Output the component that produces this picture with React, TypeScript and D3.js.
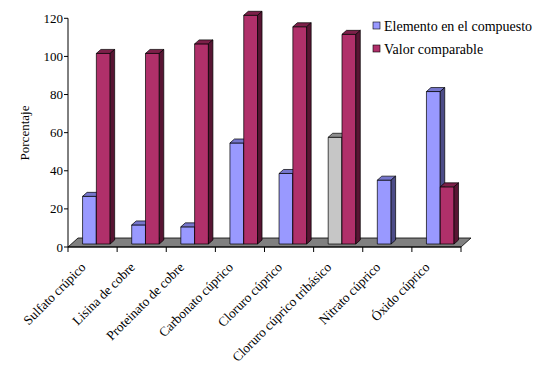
import React from "react";
import * as d3 from "d3";

const categories = [
  "Sulfato crúpico",
  "Lisina de cobre",
  "Proteinato de cobre",
  "Carbonato cúprico",
  "Cloruro cúprico",
  "Cloruro cúprico tribásico",
  "Nitrato cúprico",
  "Óxido cúprico",
];
const elemento: (number | null)[] = [25, 10, 9, 53, 37, 56, 33.5, 80];
const comparable: (number | null)[] = [100, 100, 105, 120, 114, 110, null, 30];
const seriesNames = ["Elemento en el compuesto", "Valor comparable"];
const yTicks = [0, 20, 40, 60, 80, 100, 120];
const grayIndex = 5;

const W = 536;
const H = 376;
const FONT = "Liberation Serif, Tinos, Times New Roman, DejaVu Serif, serif";

const palettes = {
  blue: { front: "#9999ff", top: "#7676cc", side: "#4c4c88" },
  red: { front: "#b0306a", top: "#7c2049", side: "#581533" },
  gray: { front: "#c6c6c6", top: "#8e8e8e", side: "#7a7a7a" },
};

function Bar3D({ x, w, yTop, yBottom, dx, dy, pal }: any) {
  const sw = 0.7;
  return (
    <g stroke="#000" strokeWidth={sw} strokeLinejoin="round">
      <rect x={x} y={yTop} width={w} height={yBottom - yTop} fill={pal.front} />
      <polygon
        points={`${x},${yTop} ${x + dx},${yTop + dy} ${x + w + dx},${yTop + dy} ${x + w},${yTop}`}
        fill={pal.top}
      />
      <polygon
        points={`${x + w},${yTop} ${x + w + dx},${yTop + dy} ${x + w + dx},${yBottom + dy} ${x + w},${yBottom}`}
        fill={pal.side}
      />
    </g>
  );
}

const textStyle = { fontFamily: FONT };

export default function App() {
  const axisX0 = 68;
  const axisX1 = 461;
  const baseY = 247;
  const yAxis = d3.scaleLinear().domain([0, 120]).range([baseY, 18.3]);
  const barShiftX = 3.8;
  const barShiftY = -3;
  const yBar = d3.scaleLinear().domain([0, 120]).range([baseY + barShiftY, 18.3 + barShiftY]);
  const xBand = d3.scaleBand<string>().domain(categories).range([axisX0, axisX1]).padding(0);
  const bw = 13.8;
  const depthDx = 4.5;
  const depthDy = -4;
  const floorDx = 10;
  const floorDy = -9;

  const boundaries = d3.range(categories.length + 1).map((i) => axisX0 + i * xBand.step());

  return (
    <svg
      width={W}
      height={H}
      style={{ position: "absolute", left: 0, top: 0, background: "#fff", fontFamily: FONT }}
    >
      <polygon
        points={`${axisX0},${baseY} ${axisX1},${baseY} ${axisX1 + floorDx},${baseY + floorDy} ${axisX0 + floorDx},${baseY + floorDy}`}
        fill="#808080"
        stroke="#000"
        strokeWidth={0.8}
      />
      {categories.map((c, i) => {
        const center = (xBand(c) as number) + xBand.bandwidth() / 2 + barShiftX;
        const x0 = center - bw;
        const e = elemento[i];
        const v = comparable[i];
        return (
          <g key={c}>
            {e != null && (
              <Bar3D
                x={x0}
                w={bw}
                yTop={yBar(e)}
                yBottom={yBar(0)}
                dx={depthDx}
                dy={depthDy}
                pal={i === grayIndex ? palettes.gray : palettes.blue}
              />
            )}
            {v != null && (
              <Bar3D
                x={center}
                w={bw}
                yTop={yBar(v)}
                yBottom={yBar(0)}
                dx={depthDx}
                dy={depthDy}
                pal={palettes.red}
              />
            )}
          </g>
        );
      })}
      <line x1={axisX0} x2={axisX0} y1={yAxis(120)} y2={baseY} stroke="#000" strokeWidth={1} />
      {yTicks.map((t) => (
        <g key={t}>
          <line x1={axisX0 - 4} x2={axisX0} y1={yAxis(t)} y2={yAxis(t)} stroke="#000" strokeWidth={1} />
          <text
            x={axisX0 - 5}
            y={yAxis(t)}
            dy="0.35em"
            textAnchor="end"
            fontSize={13}
            fill="#000"
            style={textStyle}
          >
            {t}
          </text>
        </g>
      ))}
      <text
        transform={`translate(29,133) rotate(-90)`}
        textAnchor="middle"
        fontSize={13}
        fill="#000"
        style={textStyle}
      >
        Porcentaje
      </text>
      <line x1={axisX0} x2={axisX1} y1={baseY} y2={baseY} stroke="#000" strokeWidth={1} />
      {boundaries.map((b, i) => (
        <line key={i} x1={b} x2={b} y1={baseY} y2={baseY + 5} stroke="#000" strokeWidth={1} />
      ))}
      {categories.map((c) => {
        const cx = (xBand(c) as number) + xBand.bandwidth() / 2;
        return (
          <text
            key={c}
            transform={`translate(${cx - 6},268) rotate(-45)`}
            textAnchor="end"
            fontSize={13.3}
            fill="#000"
            style={textStyle}
          >
            {c}
          </text>
        );
      })}
      {seriesNames.map((s, i) => {
        const ly = 26 + i * 23;
        return (
          <g key={s}>
            <rect
              x={373}
              y={ly - 4}
              width={7}
              height={7}
              fill={i === 0 ? palettes.blue.front : palettes.red.front}
              stroke="#000"
              strokeWidth={0.6}
            />
            <text x={384} y={ly} dy="0.35em" fontSize={14} fill="#000" style={textStyle}>
              {s}
            </text>
          </g>
        );
      })}
    </svg>
  );
}
